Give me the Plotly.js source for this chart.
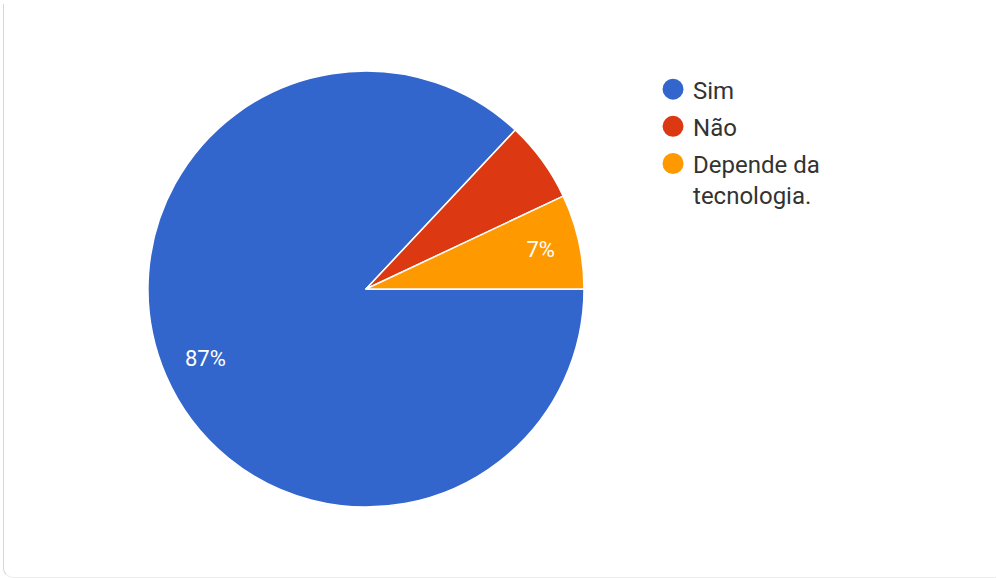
<!DOCTYPE html>
<html>
<head>
<meta charset="utf-8">
<script src="https://cdn.plot.ly/plotly-3.0.1.min.js"></script>
<style>
  html, body { margin: 0; padding: 0; background: #ffffff; }
  #card { position: absolute; left: 3px; top: 4px; width: 993px; height: 574px;
          border-left: 1px solid #d6d6d6; border-bottom: 1px solid #ececec;
          border-bottom-left-radius: 10px; box-sizing: border-box; }
  #chart { position: absolute; left: 0; top: 0; width: 997px; height: 578px; }
</style>
</head>
<body>
<div id="card"></div>
<div id="chart"></div>
<script>
const categories = ["Sim", "Não", "Depende da<br>tecnologia."];
const values = [87, 6, 7];
const sliceLabels = ["87%", "", "7%"];
const colors = ["#3366cc", "#dc3912", "#ff9900"];

const W = 997, H = 578;
const domainX = [0.1484, 0.5858];
const domainY = [0.1228, 0.8772];
const rotationDeg = 90;

// Inside labels for slices; the big slice's label is placed as an annotation
// at its mid-angle (computed from the values) to mimic the original placement.
const total = values.reduce((a, b) => a + b, 0);
const cxPaper = (domainX[0] + domainX[1]) / 2;
const cyPaper = (domainY[0] + domainY[1]) / 2;
const Rpx = Math.min((domainX[1] - domainX[0]) * W, (domainY[1] - domainY[0]) * H) / 2;

const annotations = [];
let cum = 0;
const pieText = values.map((v, i) => {
  const startFrac = cum / total;
  cum += v;
  const midFrac = (startFrac + cum / total) / 2;
  if (v / total > 0.5) {
    const ang = ((90 - rotationDeg) - midFrac * 360) * Math.PI / 180;
    const r = 0.8 * Rpx;
    annotations.push({
      xref: "paper", yref: "paper",
      x: cxPaper + r * Math.cos(ang) / W,
      y: cyPaper + r * Math.sin(ang) / H,
      xanchor: "center", yanchor: "middle",
      text: sliceLabels[i], showarrow: false,
      font: { family: "Roboto, Arial, sans-serif", size: 22, color: "#ffffff" }
    });
    return "";
  }
  return sliceLabels[i];
});

const pieTrace = {
  type: "pie",
  labels: categories,
  values: values,
  text: pieText,
  textinfo: "text",
  textposition: "inside",
  insidetextorientation: "horizontal",
  insidetextfont: { family: "Roboto, Arial, sans-serif", size: 22, color: "#ffffff" },
  sort: false,
  direction: "clockwise",
  rotation: rotationDeg,
  marker: { colors: colors, line: { color: "#ffffff", width: 1.5 } },
  domain: { x: domainX, y: domainY },
  showlegend: false,
  hoverinfo: "label+percent"
};

const legendTraces = categories.map((c, i) => ({
  type: "scatter",
  mode: "markers",
  x: [null], y: [null],
  name: c,
  legendgroup: "g" + i,
  marker: { color: colors[i], size: 16, symbol: "circle", line: { color: colors[i], width: 5 } },
  hoverinfo: "skip"
}));

const layout = {
  width: W, height: H,
  margin: { l: 0, r: 0, t: 0, b: 0 },
  paper_bgcolor: "rgba(0,0,0,0)",
  plot_bgcolor: "rgba(0,0,0,0)",
  xaxis: { visible: false },
  yaxis: { visible: false },
  showlegend: true,
  annotations: annotations,
  legend: {
    x: 0.655, y: 0.884, xanchor: "left", yanchor: "top",
    font: { family: "Roboto, Arial, sans-serif", size: 24, color: "#333333" },
    valign: "top",
    tracegroupgap: 3,
    bgcolor: "rgba(0,0,0,0)"
  }
};

Plotly.newPlot("chart", [pieTrace, ...legendTraces], layout, { displayModeBar: false, staticPlot: true });
</script>
</body>
</html>
